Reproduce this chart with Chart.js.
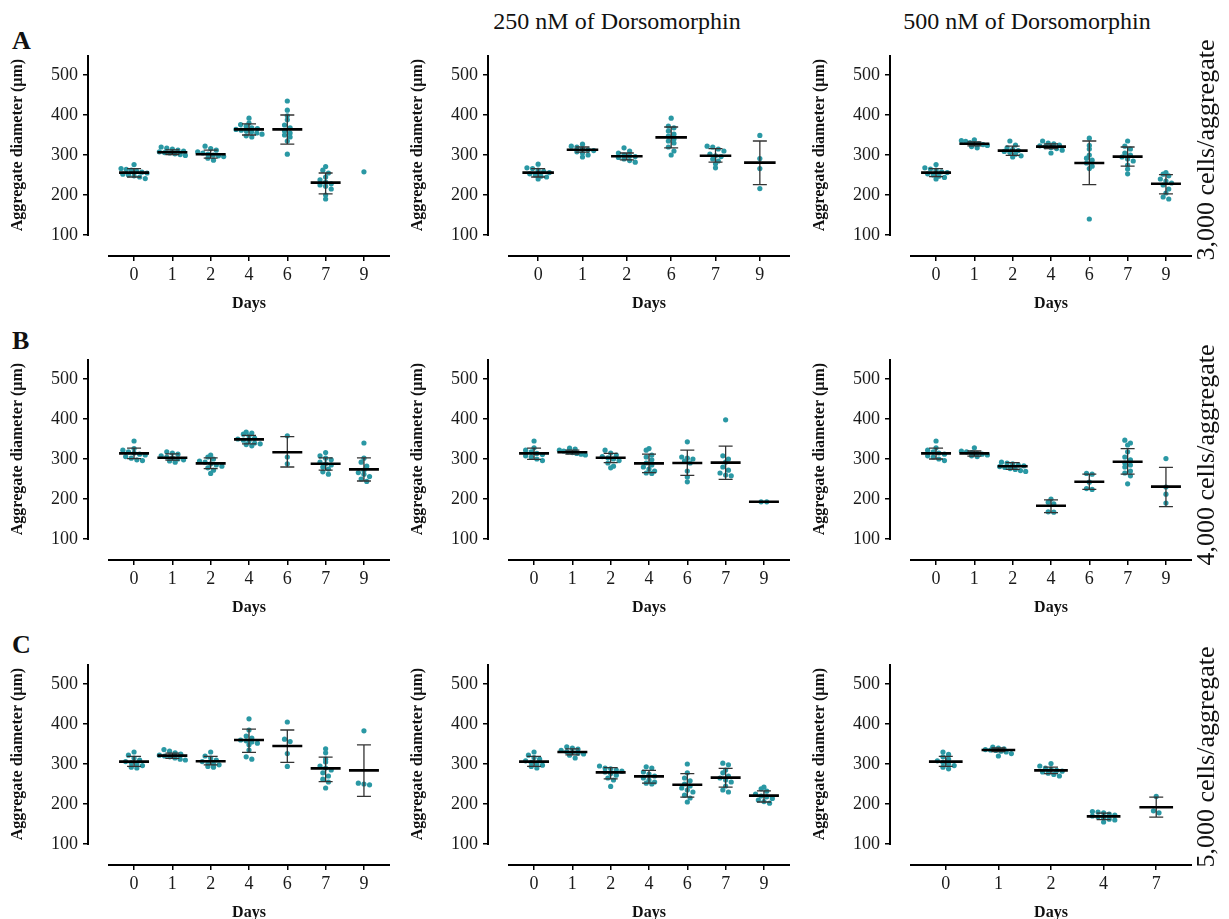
<!DOCTYPE html>
<html>
<head>
<meta charset="utf-8">
<script src="https://cdn.jsdelivr.net/npm/chart.js@4.4.1/dist/chart.umd.min.js"></script>
<style>
  body { margin: 0; background: #fff; }
  #page { position: relative; width: 1229px; height: 919px; overflow: hidden; font-family: 'Liberation Serif', 'Times New Roman', serif; color: #111; }
  .panel { position: absolute; width: 400px; height: 300px; }
  .letter { position: absolute; font-size: 26px; font-weight: bold; line-height: 1; }
  .head { position: absolute; font-size: 24px; line-height: 1; white-space: nowrap; transform: translateX(-50%); }
  .row { position: absolute; font-size: 26px; line-height: 1; white-space: nowrap; transform: translate(-50%, -50%) rotate(-90deg); }
</style>
</head>
<body>
<div id="page">
  <div class="letter" style="left:12px;top:28px">A</div>
  <div class="letter" style="left:12px;top:328px">B</div>
  <div class="letter" style="left:12px;top:632px">C</div>
  <div class="head" style="left:617px;top:9px">250 nM of Dorsomorphin</div>
  <div class="head" style="left:1027px;top:9px">500 nM of Dorsomorphin</div>
</div>
<script>
// --- data (diameter in µm) ---

// 3,000 cells/aggregate, control
const daysA1 = ['0', '1', '2', '4', '6', '7', '9'];
const dotsA1 = [
  [276, 266, 264, 262, 260, 257, 255, 252, 250, 248, 245, 241],
  [320, 317, 315, 312, 310, 308, 306, 305, 303, 301, 299],
  [322, 316, 312, 308, 305, 302, 300, 298, 296, 292, 287],
  [392, 380, 376, 372, 368, 366, 364, 362, 360, 358, 355, 352, 348, 345],
  [435, 412, 398, 388, 375, 368, 360, 355, 350, 345, 335, 302],
  [271, 262, 255, 245, 238, 232, 228, 225, 222, 215, 200, 190],
  [258]
];
const meanA1 = [256, 307, 302, 364, 364, 231, null];
const sdLoA1 = [245, 301, 292, 350, 327, 203, null];
const sdHiA1 = [266, 313, 312, 378, 400, 255, null];

// 3,000 cells/aggregate, 250 nM
const daysA2 = ['0', '1', '2', '6', '7', '9'];
const dotsA2 = [
  [277, 268, 266, 262, 259, 256, 253, 250, 247, 245, 240],
  [327, 322, 320, 316, 313, 311, 308, 305, 300, 295],
  [318, 310, 305, 300, 298, 296, 294, 290, 286, 282],
  [392, 372, 368, 360, 352, 347, 340, 335, 330, 320, 310, 300],
  [322, 320, 315, 310, 302, 298, 296, 290, 285, 278, 268],
  [349, 291, 266, 216]
];
const meanA2 = [256, 313, 297, 344, 298, 281];
const sdLoA2 = [245, 307, 288, 318, 282, 226];
const sdHiA2 = [266, 320, 305, 370, 316, 335];

// 3,000 cells/aggregate, 500 nM
const daysA3 = ['0', '1', '2', '4', '6', '7', '9'];
const dotsA3 = [
  [276, 268, 265, 262, 258, 256, 253, 250, 247, 244, 240],
  [338, 336, 334, 331, 329, 328, 326, 324, 321, 318],
  [335, 325, 318, 314, 311, 309, 306, 302, 298, 295],
  [335, 330, 328, 325, 323, 321, 319, 316, 312, 305],
  [342, 324, 315, 300, 292, 287, 280, 272, 266, 140],
  [335, 322, 315, 305, 300, 295, 290, 285, 275, 265, 253],
  [256, 252, 248, 240, 235, 230, 225, 215, 205, 195, 190]
];
const meanA3 = [256, 328, 311, 321, 280, 296, 228];
const sdLoA3 = [246, 323, 299, 316, 226, 272, 203];
const sdHiA3 = [266, 333, 322, 328, 335, 320, 251];

// 4,000 cells/aggregate, control
const daysB1 = ['0', '1', '2', '4', '6', '7', '9'];
const dotsB1 = [
  [345, 326, 322, 318, 315, 312, 310, 306, 302, 298, 296],
  [318, 315, 312, 308, 305, 302, 300, 298, 295, 292],
  [310, 305, 300, 295, 292, 288, 285, 282, 278, 272, 264],
  [367, 365, 362, 358, 352, 350, 347, 345, 340, 338, 336, 333],
  [358, 305, 288],
  [316, 308, 302, 298, 292, 288, 285, 280, 275, 268, 262],
  [340, 302, 292, 282, 272, 266, 262, 256, 250, 244]
];
const meanB1 = [314, 303, 289, 349, 317, 288, 274];
const sdLoB1 = [301, 297, 276, 338, 280, 272, 245];
const sdHiB1 = [327, 313, 303, 359, 356, 303, 303];

// 4,000 cells/aggregate, 250 nM
const daysB2 = ['0', '1', '2', '4', '6', '7', '9'];
const dotsB2 = [
  [345, 328, 322, 318, 314, 311, 308, 305, 300, 296],
  [327, 325, 322, 320, 318, 316, 314, 312, 310],
  [322, 315, 310, 306, 303, 300, 296, 290, 282, 278],
  [326, 322, 310, 305, 298, 290, 285, 280, 275, 270, 265, 264],
  [343, 305, 302, 300, 295, 290, 270, 255, 243],
  [398, 308, 300, 292, 280, 272, 265, 260, 258],
  [193, 193]
];
const meanB2 = [314, 317, 303, 289, 290, 291, 193];
const sdLoB2 = [299, 312, 291, 266, 259, 249, null];
const sdHiB2 = [327, 322, 314, 312, 322, 332, null];

// 4,000 cells/aggregate, 500 nM
const daysB3 = ['0', '1', '2', '4', '6', '7', '9'];
const dotsB3 = [
  [345, 328, 322, 318, 315, 312, 308, 305, 300, 296],
  [328, 320, 318, 316, 314, 312, 310, 308, 306],
  [292, 290, 288, 285, 283, 281, 279, 276, 274, 271, 269],
  [200, 192, 188, 168, 167],
  [264, 262, 242, 226, 224],
  [347, 340, 335, 318, 305, 298, 290, 285, 280, 270, 265, 258, 238],
  [301, 230, 212, 190]
];
const meanB3 = [314, 314, 282, 183, 243, 293, 231];
const sdLoB3 = [300, 307, 274, 166, 224, 262, 181];
const sdHiB3 = [327, 320, 291, 198, 262, 326, 279];

// 5,000 cells/aggregate, control
const daysC1 = ['0', '1', '2', '4', '6', '7', '9'];
const dotsC1 = [
  [330, 322, 315, 310, 306, 303, 300, 296, 292, 290],
  [336, 332, 328, 325, 322, 320, 318, 315, 312, 310],
  [330, 320, 315, 310, 306, 303, 300, 298, 294, 292],
  [413, 385, 370, 365, 360, 358, 355, 352, 348, 335, 318, 312],
  [405, 362, 356, 326, 294],
  [338, 328, 312, 305, 295, 290, 285, 278, 270, 262, 255, 240],
  [383, 252, 250, 248]
];
const meanC1 = [306, 321, 307, 360, 345, 289, 284];
const sdLoC1 = [294, 314, 298, 329, 304, 256, 219];
const sdHiC1 = [319, 327, 319, 387, 385, 317, 348];

// 5,000 cells/aggregate, 250 nM
const daysC2 = ['0', '1', '2', '4', '6', '7', '9'];
const dotsC2 = [
  [330, 322, 316, 312, 308, 304, 300, 297, 294, 290],
  [343, 340, 337, 334, 331, 329, 327, 325, 322, 315],
  [295, 290, 288, 285, 282, 280, 276, 272, 265, 260, 244],
  [293, 290, 280, 275, 270, 265, 260, 255, 252, 250],
  [300, 278, 265, 258, 250, 245, 240, 235, 230, 222, 215, 205],
  [302, 298, 285, 278, 270, 265, 260, 255, 245, 235, 230],
  [242, 238, 232, 225, 220, 218, 214, 210, 206, 202]
];
const meanC2 = [306, 330, 279, 269, 248, 266, 221];
const sdLoC2 = [294, 323, 263, 252, 217, 242, 205];
const sdHiC2 = [319, 338, 291, 284, 276, 289, 233];

// 5,000 cells/aggregate, 500 nM
const daysC3 = ['0', '1', '2', '4', '7'];
const dotsC3 = [
  [330, 324, 318, 312, 308, 304, 300, 296, 292, 288],
  [342, 340, 338, 336, 335, 334, 332, 330, 326, 320],
  [301, 295, 290, 287, 284, 282, 280, 277, 274, 270],
  [181, 180, 178, 175, 172, 170, 168, 165, 162, 160, 155],
  [219, 183, 178]
];
const meanC3 = [306, 335, 284, 169, 192];
const sdLoC3 = [294, 331, 276, 161, 167];
const sdHiC3 = [319, 340, 292, 177, 217];

const yTicks = [100, 200, 300, 400, 500];
const rowLabels = ['3,000 cells/aggregate', '4,000 cells/aggregate', '5,000 cells/aggregate'];

// --- layout ---
const DOT = '#2a98a4';
const Y_MIN = 47.5, Y_MAX = 550;
const PX_PER_UM = 0.4;       // 201 px plot height / 502.5
const AXIS_LEN = 282;        // length of the detached x axis line
const GAP = 20;              // gap between y axis and start of x axis
const PAD = 0.68;            // category padding at each end of x axis
const AREA_W = GAP + AXIS_LEN;
const colX = [88, 488, 890];   // page x of each y axis
const rowY = [55, 359, 664];   // page y of the 550 µm end of each y axis

const panels = [
  { r: 0, c: 0, days: daysA1, dots: dotsA1, mean: meanA1, lo: sdLoA1, hi: sdHiA1 },
  { r: 0, c: 1, days: daysA2, dots: dotsA2, mean: meanA2, lo: sdLoA2, hi: sdHiA2 },
  { r: 0, c: 2, days: daysA3, dots: dotsA3, mean: meanA3, lo: sdLoA3, hi: sdHiA3 },
  { r: 1, c: 0, days: daysB1, dots: dotsB1, mean: meanB1, lo: sdLoB1, hi: sdHiB1 },
  { r: 1, c: 1, days: daysB2, dots: dotsB2, mean: meanB2, lo: sdLoB2, hi: sdHiB2 },
  { r: 1, c: 2, days: daysB3, dots: dotsB3, mean: meanB3, lo: sdLoB3, hi: sdHiB3 },
  { r: 2, c: 0, days: daysC1, dots: dotsC1, mean: meanC1, lo: sdLoC1, hi: sdHiC1 },
  { r: 2, c: 1, days: daysC2, dots: dotsC2, mean: meanC2, lo: sdLoC2, hi: sdHiC2 },
  { r: 2, c: 2, days: daysC3, dots: dotsC3, mean: meanC3, lo: sdLoC3, hi: sdHiC3 }
];

Chart.defaults.font.family = "'Liberation Serif', 'Times New Roman', serif";
Chart.defaults.font.size = 18;
Chart.defaults.color = '#1a1a1a';

// scatter-dot layout: dots in the same height band sit side by side, centred
function swarm(values) {
  const BAND = 5.5;   // px
  const bands = {};
  values.forEach((v, i) => {
    const b = Math.round(v * PX_PER_UM / BAND);
    (bands[b] = bands[b] || []).push(i);
  });
  const offs = new Array(values.length).fill(0);
  Object.keys(bands).forEach(b => {
    const ids = bands[b];
    const k = ids.length;
    const step = k > 1 ? Math.min(5.6, 26 / (k - 1)) : 0;
    ids.forEach((id, j) => { offs[id] = (j - (k - 1) / 2) * step; });
  });
  return offs;
}

// axis lines (prism style, detached) + axis titles
const frame = {
  id: 'frame',
  afterDraw(chart) {
    const { ctx, chartArea: a, scales: { x, y } } = chart;
    const x0 = x.getPixelForValue(-PAD);
    ctx.save();
    ctx.strokeStyle = '#000';
    ctx.lineWidth = 2;
    ctx.beginPath();
    ctx.moveTo(a.left, y.getPixelForValue(Y_MAX));
    ctx.lineTo(a.left, y.getPixelForValue(100) + 1);
    ctx.moveTo(x0, a.bottom);
    ctx.lineTo(a.right, a.bottom);
    ctx.stroke();
    ctx.fillStyle = '#111';
    ctx.font = "bold 16px 'Liberation Serif', serif";
    ctx.textAlign = 'center';
    ctx.textBaseline = 'middle';
    ctx.fillText('Days', (x0 + a.right) / 2, a.bottom + 48);
    ctx.translate(a.left - 70, y.getPixelForValue(325));
    ctx.rotate(-Math.PI / 2);
    ctx.fillText('Aggregate diameter (µm)', 0, 0);
    ctx.restore();
  }
};

const page = document.getElementById('page');

panels.forEach(p => {
  const n = p.days.length;
  const unit = AXIS_LEN / (n - 1 + 2 * PAD);
  const xMax = n - 1 + PAD;
  const xMin = xMax - AREA_W / unit;
  const meanHalf = (10 + 0.13 * unit) / unit;
  const capHalf = 7 / unit;

  const dotPts = [];
  p.dots.forEach((vals, i) => {
    const offs = swarm(vals);
    vals.forEach((v, j) => dotPts.push({ x: i + offs[j] / unit, y: v }));
  });

  const meanPts = [];
  const sdPts = [];
  p.days.forEach((d, i) => {
    if (p.mean[i] != null) {
      meanPts.push({ x: i - meanHalf, y: p.mean[i] }, { x: i + meanHalf, y: p.mean[i] }, { x: i, y: null });
    }
    if (p.lo[i] != null) {
      sdPts.push({ x: i, y: p.lo[i] }, { x: i, y: p.hi[i] }, { x: i, y: null });
      sdPts.push({ x: i - capHalf, y: p.hi[i] }, { x: i + capHalf, y: p.hi[i] }, { x: i, y: null });
      sdPts.push({ x: i - capHalf, y: p.lo[i] }, { x: i + capHalf, y: p.lo[i] }, { x: i, y: null });
    }
  });

  const box = document.createElement('div');
  box.className = 'panel';
  box.style.left = (colX[p.c] - 88) + 'px';
  box.style.top = (rowY[p.r] - 40) + 'px';
  const cv = document.createElement('canvas');
  cv.width = 400;
  cv.height = 300;
  box.appendChild(cv);
  page.appendChild(box);

  new Chart(cv, {
    type: 'scatter',
    data: {
      datasets: [
        { data: dotPts, pointRadius: 2.6, pointBackgroundColor: DOT, pointBorderWidth: 0, order: 3 },
        { data: sdPts, showLine: true, spanGaps: false, borderColor: '#333', borderWidth: 1.3, pointRadius: 0, order: 2 },
        { data: meanPts, showLine: true, spanGaps: false, borderColor: '#000', borderWidth: 2.6, pointRadius: 0, order: 1 }
      ]
    },
    options: {
      responsive: false,
      animation: false,
      devicePixelRatio: 1,
      layout: { padding: { top: 40, left: 48, right: 400 - 88 - AREA_W, bottom: 19 } },
      plugins: { legend: { display: false }, tooltip: { enabled: false } },
      scales: {
        x: {
          type: 'linear',
          min: xMin,
          max: xMax,
          afterBuildTicks: s => { s.ticks = p.days.map((d, i) => ({ value: i })); },
          afterFit: s => { s.height = 40; },
          ticks: { callback: v => p.days[Math.round(v)], autoSkip: false, maxRotation: 0, padding: 3 },
          grid: { drawOnChartArea: false, drawTicks: true, tickLength: 5, color: '#000', lineWidth: 1.5 },
          border: { display: false }
        },
        y: {
          min: Y_MIN,
          max: Y_MAX,
          afterBuildTicks: s => { s.ticks = yTicks.map(v => ({ value: v })); },
          afterFit: s => { s.width = 40; },
          ticks: { padding: 5 },
          grid: { drawOnChartArea: false, drawTicks: true, tickLength: 5, color: '#000', lineWidth: 1.5 },
          border: { display: false }
        }
      }
    },
    plugins: [frame]
  });
});

// row labels on the right
const rowMid = [150, 455, 757];
rowLabels.forEach((t, i) => {
  const el = document.createElement('div');
  el.className = 'row';
  el.style.left = '1206px';
  el.style.top = rowMid[i] + 'px';
  el.textContent = t;
  page.appendChild(el);
});
</script>
</body>
</html>
